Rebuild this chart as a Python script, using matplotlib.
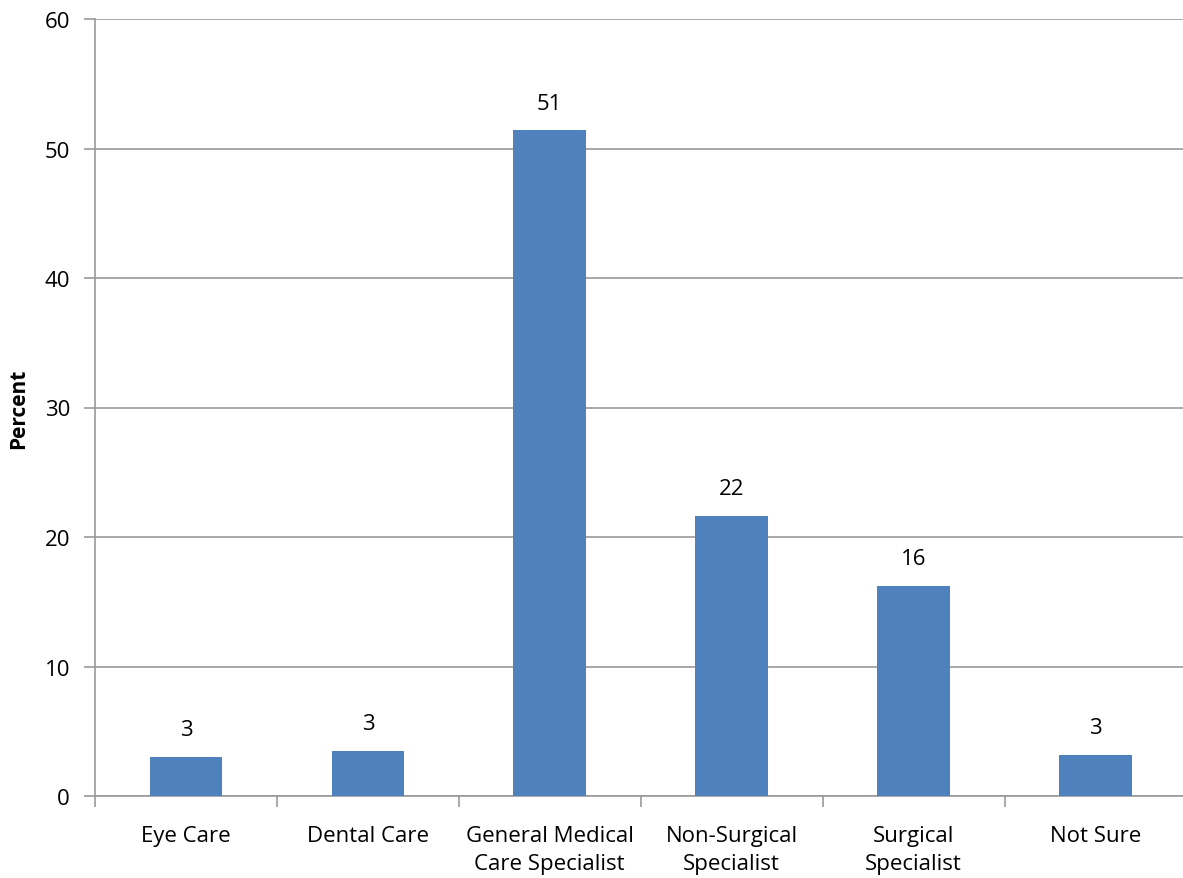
import matplotlib.pyplot as plt
import numpy as np

categories = ['Eye Care', 'Dental Care', 'General Medical\nCare Specialist',
              'Non-Surgical\nSpecialist', 'Surgical\nSpecialist', 'Not Sure']
values = [3.0, 3.45, 51.4, 21.6, 16.2, 3.15]
labels = ['3', '3', '51', '22', '16', '3']

plt.rcParams['font.family'] = ['Open Sans', 'DejaVu Sans']

fig = plt.figure(figsize=(11.83, 8.79), dpi=100)
ax = fig.add_axes([95 / 1183, 82 / 879, 1 - 95 / 1183 + 0.003, 777 / 879])

x = np.arange(len(categories))
ax.bar(x, values, width=0.4, color='#4F81BD', zorder=3)

for xi, v, lab in zip(x, values, labels):
    ax.text(xi, v + 1.3, lab, ha='center', va='bottom', fontsize=16, color='black')

ax.set_xlim(-0.5, len(categories) - 0.5)
ax.set_ylim(0, 60)
ax.set_yticks(range(0, 61, 10))
ax.yaxis.grid(True, color='#999999', linewidth=1.2, zorder=0)

ax.set_xticks(x)
ax.set_xticklabels(categories, fontsize=16, linespacing=1.45)
ax.tick_params(axis='x', length=0, pad=21)
ax.set_xticks(np.arange(-0.5, len(categories), 1), minor=True)
ax.tick_params(axis='x', which='minor', length=8, width=1.2, color='#999999', direction='out')
ax.tick_params(axis='y', length=8, width=1.2, color='#999999', labelsize=16, pad=10)

for side in ['top', 'right']:
    ax.spines[side].set_visible(False)
for side in ['left', 'bottom']:
    ax.spines[side].set_color('#999999')
    ax.spines[side].set_linewidth(1.2)

ax.set_ylabel('Percent', fontsize=15, fontweight='bold')
ax.yaxis.set_label_coords(-66 / 1088, 0.5)

fig.savefig('out.png', dpi=100)
